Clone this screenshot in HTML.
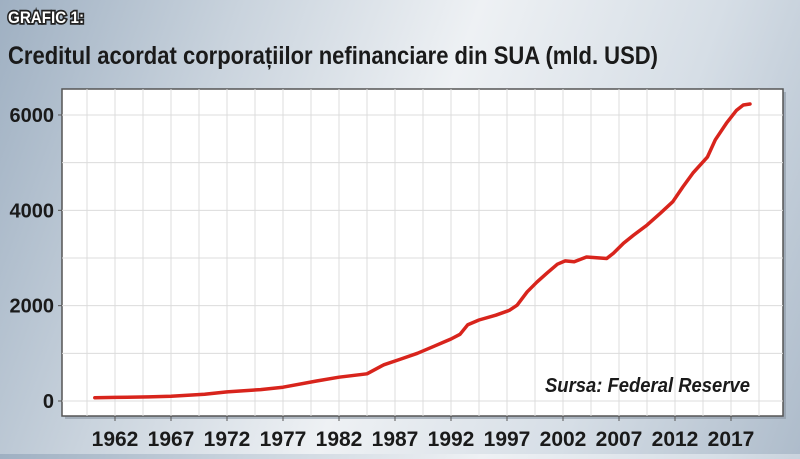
<!DOCTYPE html>
<html><head><meta charset="utf-8"><style>
html,body{margin:0;padding:0;}
body{width:800px;height:454px;overflow:hidden;background:linear-gradient(110deg,#9fb0c2 0%,#c9d3dd 25%,#eef1f4 50%,#d6dee6 75%,#aebccb 100%);font-family:"Liberation Sans Narrow","Liberation Sans",sans-serif;}
</style></head><body>
<svg width="800" height="454" xmlns="http://www.w3.org/2000/svg">
<text x="8" y="23" font-size="17" font-weight="bold" fill="#fff" stroke="#222" stroke-width="3.5" paint-order="stroke" textLength="76" lengthAdjust="spacingAndGlyphs">GRAFIC 1:</text>
<text x="8" y="64" font-size="25" font-weight="bold" fill="#1a1a1a" textLength="650" lengthAdjust="spacingAndGlyphs">Creditul acordat corporațiilor nefinanciare din SUA (mld. USD)</text>
<rect x="65" y="92" width="721" height="327" fill="#8a96a3" opacity="0.6"/>
<rect x="62" y="89" width="721" height="327" fill="#fff" stroke="#555" stroke-width="1.5"/>
<g id="grid"></g>
<g id="axes"></g>
<path id="line" fill="none" stroke="#d8241c" stroke-width="3.5" stroke-linejoin="round" stroke-linecap="round"/>
<text x="750" y="392" font-size="20" font-weight="bold" font-style="italic" fill="#1a1a1a" text-anchor="end" textLength="205" lengthAdjust="spacingAndGlyphs">Sursa: Federal Reserve</text>
</svg>
<script>
const years=[1960.2,1962,1965,1967,1970,1972,1975,1977,1980,1982,1984.5,1986,1987.5,1989,1990.5,1991.5,1992,1992.8,1993.5,1994.5,1996,1997.2,1997.9,1998.8,1999.7,2000.6,2001.5,2002.2,2003,2004.1,2005.9,2006.5,2007.4,2008.3,2009.5,2010.7,2011.8,2012.7,2013.6,2014.9,2015.6,2016.6,2017.5,2018.1,2018.7];
const values=[70,75,85,100,140,190,240,290,420,500,570,760,880,1000,1150,1250,1300,1400,1600,1700,1800,1900,2010,2290,2500,2690,2870,2940,2920,3020,2990,3100,3310,3480,3690,3940,4180,4490,4780,5120,5480,5830,6100,6210,6230];
const yTicks=[0,2000,4000,6000];
const xTicks=[1962,1967,1972,1977,1982,1987,1992,1997,2002,2007,2012,2017];
const NS="http://www.w3.org/2000/svg";
const X=y=>115+(y-1962)*11.2;
const Y=v=>401-v*0.04767;
const grid=document.getElementById('grid'),axes=document.getElementById('axes');
for(let yr=1959.5;X(yr)<783;yr+=2.5){const l=document.createElementNS(NS,'line');
l.setAttribute('x1',X(yr));l.setAttribute('x2',X(yr));l.setAttribute('y1',89);l.setAttribute('y2',416);l.setAttribute('stroke','#dcdcdc');


grid.appendChild(l);}
for(let v=0;v<=6000;v+=1000){const l=document.createElementNS(NS,'line');
l.setAttribute('x1',62);l.setAttribute('x2',783);l.setAttribute('y1',Y(v));l.setAttribute('y2',Y(v));l.setAttribute('stroke','#dcdcdc');


grid.appendChild(l);}
yTicks.forEach(v=>{const t=document.createElementNS(NS,'text');
t.setAttribute('x',54);t.setAttribute('y',Y(v)+7);t.setAttribute('text-anchor','end');t.setAttribute('font-size','20');t.setAttribute('font-weight','bold');t.setAttribute('fill','#1a1a1a');t.textContent=v;


axes.appendChild(t);
const k=document.createElementNS(NS,'line');k.setAttribute('x1',58);k.setAttribute('x2',62);k.setAttribute('y1',Y(v));k.setAttribute('y2',Y(v));k.setAttribute('stroke','#555');


axes.appendChild(k);});
xTicks.forEach(yr=>{const t=document.createElementNS(NS,'text');
t.setAttribute('x',X(yr));t.setAttribute('y',446);t.setAttribute('text-anchor','middle');t.setAttribute('font-size','21');t.setAttribute('font-weight','bold');t.setAttribute('fill','#1a1a1a');t.textContent=yr;


axes.appendChild(t);
const k=document.createElementNS(NS,'line');k.setAttribute('x1',X(yr));k.setAttribute('x2',X(yr));k.setAttribute('y1',416);k.setAttribute('y2',421);k.setAttribute('stroke','#555');


axes.appendChild(k);});
document.getElementById('line').setAttribute('d',years.map((y,i)=>(i?'L':'M')+X(y).toFixed(1)+' '+Y(values[i]).toFixed(1)).join(' '));
</script>
</body></html>
